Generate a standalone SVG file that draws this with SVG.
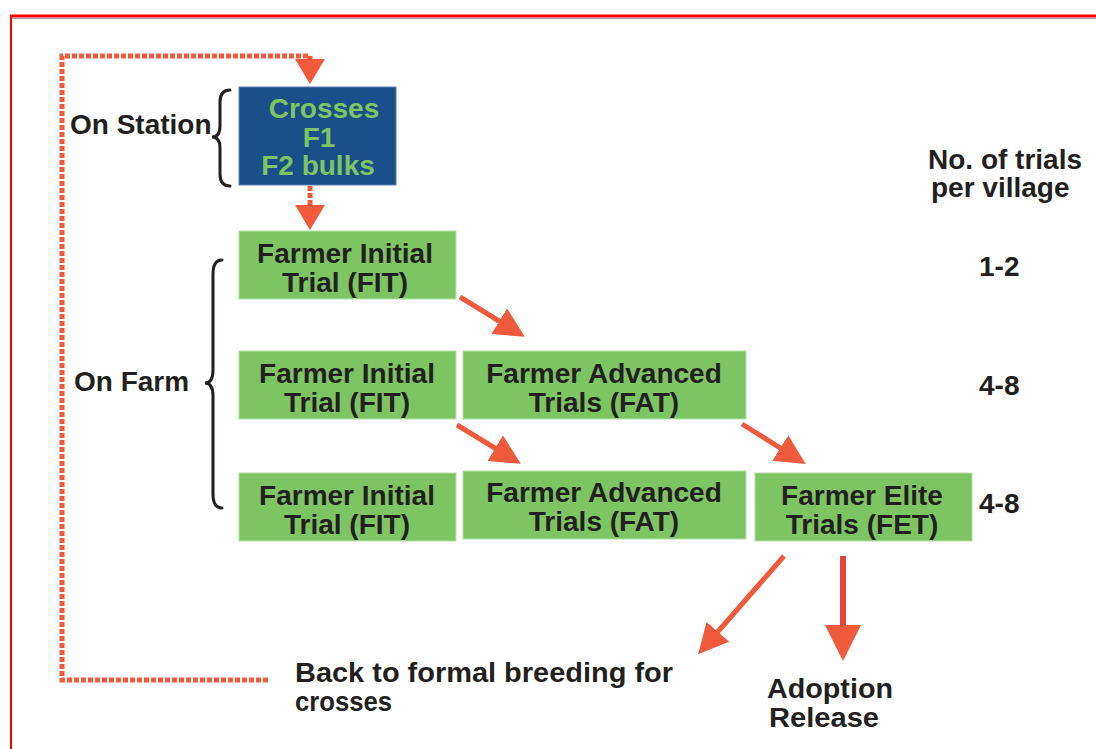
<svg xmlns="http://www.w3.org/2000/svg" width="1096" height="749" viewBox="0 0 1096 749">
  <defs>
    <style>
      .lbl { font-family: "Liberation Sans", Arial, sans-serif; font-weight: bold; font-size: 28px; fill: #231f20; }
      .box { fill: #7dc462; stroke: #b8e0a8; stroke-width: 1; }
      .boxt { font-family: "Liberation Sans", Arial, sans-serif; font-weight: bold; font-size: 28px; fill: #231f20; text-anchor: middle; }
      .stn { fill: #1a4f8a; stroke: #5a7fb0; stroke-width: 1; }
      .stnt { font-family: "Liberation Sans", Arial, sans-serif; font-weight: bold; font-size: 28px; fill: #7dc462; text-anchor: middle; }
      .narrow { font-family: "Liberation Sans", Arial, sans-serif; font-weight: bold; font-size: 27px; fill: #231f20; }
      .dash { fill: none; stroke: #f05a3a; stroke-width: 5; stroke-dasharray: 5 2; }
      .arr { stroke: #ef5a3c; stroke-width: 5; fill: none; }
      .brace { fill: none; stroke: #231f20; stroke-width: 3; stroke-linecap: round; }
    </style>
    <marker id="head" markerWidth="6" markerHeight="6" refX="3" refY="3" orient="auto" markerUnits="strokeWidth">
      <path d="M0,0 L6,3 L0,6 Z" fill="#ef5a3c"/>
    </marker>
    <marker id="headD" markerWidth="5" markerHeight="6" refX="1" refY="3" orient="auto" markerUnits="strokeWidth">
      <path d="M0,0 L5,3 L0,6 Z" fill="#f05a3a"/>
    </marker>
  </defs>

  <rect width="1096" height="749" fill="#ffffff"/>

  <!-- page frame -->
  <line x1="10" y1="16" x2="1096" y2="16" stroke="#ff0000" stroke-width="3"/>
  <line x1="10" y1="18.5" x2="1096" y2="18.5" stroke="#9aa0a8" stroke-width="1"/>
  <line x1="11" y1="15" x2="11" y2="749" stroke="#ff0000" stroke-width="2"/>

  <!-- connectors -->
  <g id="connectors">
    <path class="dash" d="M268,680 L62,680 L62,56 L310,56 L310,64" marker-end="url(#headD)"/>
    <path class="dash" d="M310,186 L310,210" marker-end="url(#headD)"/>
    <line class="arr" x1="460" y1="297" x2="512" y2="329" marker-end="url(#head)"/>
    <line class="arr" x1="457" y1="425" x2="508" y2="456" marker-end="url(#head)"/>
    <line class="arr" x1="742" y1="424" x2="793" y2="456" marker-end="url(#head)"/>
    <line class="arr" x1="784" y1="556" x2="708" y2="643" marker-end="url(#head)"/>
    <line x1="843" y1="556" x2="843" y2="643" stroke="#e8453a" stroke-width="6" marker-end="url(#head)"/>
  </g>

  <!-- braces -->
  <g id="brace-station">
    <path class="brace" d="M230,90 Q220,90 220,102 L220,126 Q220,137 212,137 Q220,137 220,148 L220,174 Q220,186 230,186"/>
  </g>
  <g id="brace-farm">
    <path class="brace" d="M222,260 Q213,260 213,274 L213,370 Q213,383 205,383 Q213,383 213,396 L213,494 Q213,508 222,508"/>
  </g>

  <!-- side labels -->
  <g id="label-station"><text class="lbl" x="70" y="134">On Station</text></g>
  <g id="label-farm"><text class="lbl" x="74" y="391">On Farm</text></g>
  <g id="label-trials">
    <text class="lbl" x="928" y="169">No. of trials</text>
    <text class="lbl" x="931" y="197">per village</text>
  </g>
  <g id="count-1"><text class="lbl" x="979" y="276">1-2</text></g>
  <g id="count-2"><text class="lbl" x="979" y="395">4-8</text></g>
  <g id="count-3"><text class="lbl" x="979" y="513">4-8</text></g>

  <!-- station node -->
  <g id="crosses">
    <rect class="stn" x="239" y="87" width="157" height="98"/>
    <text class="stnt" x="324" y="118">Crosses</text>
    <text class="stnt" x="319" y="147">F1</text>
    <text class="stnt" x="318" y="175">F2 bulks</text>
  </g>

  <!-- farm nodes -->
  <g id="fit-1">
    <rect class="box" x="239" y="231" width="217" height="68"/>
    <text class="boxt" x="345" y="263">Farmer Initial</text>
    <text class="boxt" x="345" y="292">Trial (FIT)</text>
  </g>
  <g id="fit-2">
    <rect class="box" x="239" y="351" width="217" height="68"/>
    <text class="boxt" x="347" y="383">Farmer Initial</text>
    <text class="boxt" x="347" y="412">Trial (FIT)</text>
  </g>
  <g id="fat-2">
    <rect class="box" x="463" y="351" width="283" height="68"/>
    <text class="boxt" x="604" y="383">Farmer Advanced</text>
    <text class="boxt" x="604" y="412">Trials (FAT)</text>
  </g>
  <g id="fit-3">
    <rect class="box" x="239" y="473" width="217" height="68"/>
    <text class="boxt" x="347" y="505">Farmer Initial</text>
    <text class="boxt" x="347" y="534">Trial (FIT)</text>
  </g>
  <g id="fat-3">
    <rect class="box" x="463" y="471" width="283" height="68"/>
    <text class="boxt" x="604" y="502">Farmer Advanced</text>
    <text class="boxt" x="604" y="531">Trials (FAT)</text>
  </g>
  <g id="fet-3">
    <rect class="box" x="755" y="473" width="217" height="68"/>
    <text class="boxt" x="862" y="505">Farmer Elite</text>
    <text class="boxt" x="862" y="534">Trials (FET)</text>
  </g>

  <!-- outcomes -->
  <g id="back-to-breeding">
    <text class="narrow" x="295" y="682" textLength="378" lengthAdjust="spacingAndGlyphs">Back to formal breeding for</text>
    <text class="narrow" x="295" y="711" textLength="97" lengthAdjust="spacingAndGlyphs">crosses</text>
  </g>
  <g id="adoption">
    <text class="narrow" x="767" y="698" textLength="126" lengthAdjust="spacingAndGlyphs">Adoption</text>
    <text class="narrow" x="769" y="727" textLength="110" lengthAdjust="spacingAndGlyphs">Release</text>
  </g>
</svg>
